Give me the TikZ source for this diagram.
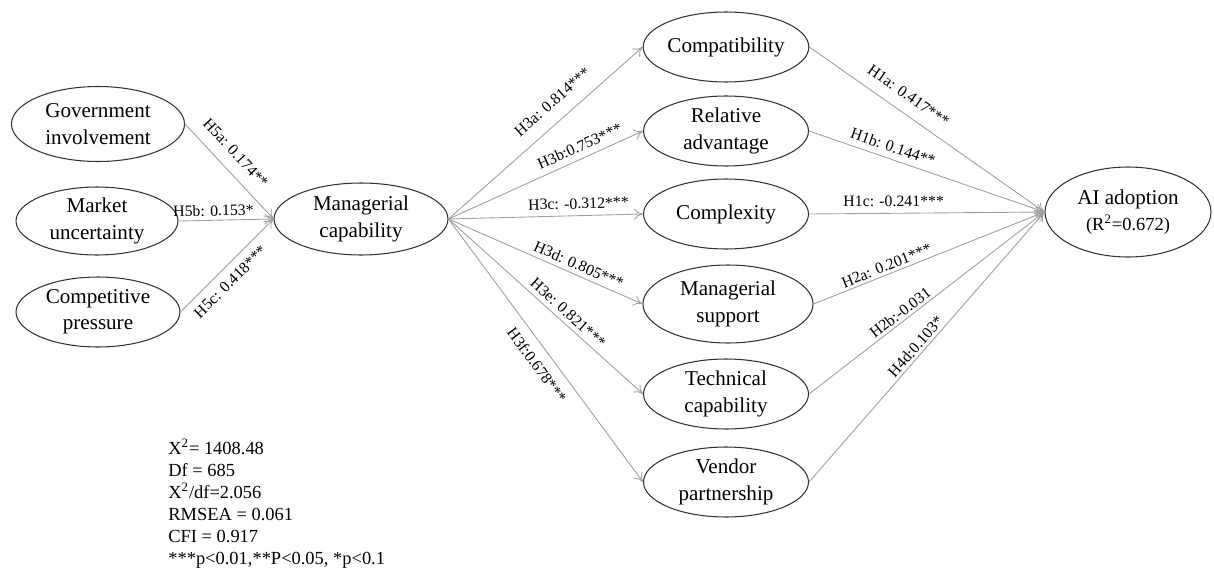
\documentclass[tikz,border=0pt]{standalone}
\usepackage{fontspec}
\setmainfont{Liberation Serif}
\usepackage{tikz}
\usetikzlibrary{shapes.geometric, arrows.meta, positioning}

\begin{document}
\begin{tikzpicture}[x = 0.02cm, y = -0.02cm,
	latent/.style = {ellipse, draw = black!80, line width = 0.6pt, minimum width = 3.3cm, minimum height = 1.4cm, inner sep = 0pt, align = center, font = \fontsize{12}{15}\selectfont},
	link/.style = {draw = gray!75, line width = 0.5pt, -{To[length = 1.8mm, width = 2.2mm]}},
	coef/.style = {sloped, font = \fontsize{9}{10}\selectfont, inner sep = 1.5pt}]
		\useasboundingbox (0, 0) rectangle (1214, 568);
		
		% antecedents of managerial capability
		\node[latent, minimum width = 3.46cm, minimum height = 1.5cm] (gov) at (98, 124) {Government\\involvement};
		\node[latent, minimum width = 3.24cm, minimum height = 1.36cm] (mkt) at (97, 221) {Market\\uncertainty};
		\node[latent, minimum width = 3.28cm, minimum height = 1.4cm] (comp) at (98, 312) {Competitive\\pressure};
		\node[latent, minimum width = 3.48cm, minimum height = 1.44cm] (mc) at (361, 219) {Managerial\\capability};
		
		% mediators
		\node[latent] (compat) at (726, 47) {Compatibility};
		\node[latent] (rel) at (726, 131) {Relative\\advantage};
		\node[latent] (cplx) at (726, 214) {Complexity};
		\node[latent, minimum width = 3.4cm, minimum height = 1.56cm] (msup) at (728, 304) {Managerial\\support};
		\node[latent] (tech) at (726, 394) {Technical\\capability};
		\node[latent] (vend) at (726, 482) {Vendor\\partnership};
		
		% outcome
		\node[latent, minimum width = 3.32cm, minimum height = 1.8cm] (ai) at (1128, 212) {AI adoption\\{\fontsize{10.5}{12}\selectfont (R\textsuperscript{2}=0.672)}};
		
		\draw[link] (gov.east) -- node[coef, above = 5pt, pos = 0.43] {H5a: 0.174**} (mc.west);
		\draw[link] (mkt.east) -- node[coef, above = 0.5pt, pos = 0.37] {H5b: 0.153*} (mc.west);
		\draw[link] (comp.east) -- node[coef, below = 3pt, pos = 0.43] {H5c: 0.418***} (mc.west);
		
		\draw[link] (mc.east) -- node[coef, above = 6pt, pos = 0.6] {H3a: 0.814***} (compat.west);
		\draw[link] (mc.east) -- node[coef, above = 2pt, pos = 0.7] {H3b:0.753***} (rel.west);
		\draw[link] (mc.east) -- node[coef, above = 2pt, pos = 0.67] {H3c: -0.312***} (cplx.west);
		\draw[link] (mc.east) -- node[coef, above = 1pt, pos = 0.65] {H3d: 0.805***} (msup.west);
		\draw[link] (mc.east) -- node[coef, above = 1pt, pos = 0.58] {H3e: 0.821***} (tech.west);
		\draw[link] (mc.east) -- node[coef, below = 4pt, pos = 0.52] {H3f:0.678***} (vend.west);
		
		\draw[link] (compat.east) -- node[coef, above = 5pt, pos = 0.38] {H1a: 0.417***} (ai.west);
		\draw[link] (rel.east) -- node[coef, above = 2pt, pos = 0.34] {H1b: 0.144**} (ai.west);
		\draw[link] (cplx.east) -- node[coef, above = 2pt, pos = 0.36] {H1c: -0.241***} (ai.west);
		\draw[link] (msup.east) -- node[coef, above = 0pt, pos = 0.33] {H2a: 0.201***} (ai.west);
		\draw[link] (tech.east) -- node[coef, above = 0pt, pos = 0.41] {H2b:-0.031} (ai.west);
		\draw[link] (vend.east) -- node[coef, above = 0pt, pos = 0.48] {H4d:0.103*} (ai.west);
		
		% fit indices
		\node[anchor = north west, align = left, inner sep = 0pt, font = \fontsize{10.5}{12.5}\selectfont] (fit) at (168, 439) {X\textsuperscript{2}= 1408.48\\Df = 685\\X\textsuperscript{2}/df=2.056\\RMSEA = 0.061\\CFI = 0.917\\***p<0.01,**P<0.05, *p<0.1};
\end{tikzpicture}
\end{document}
